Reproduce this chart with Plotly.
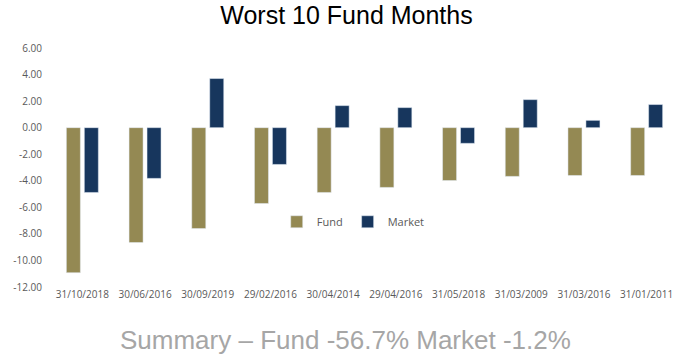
import plotly.graph_objects as go

months = ["31/10/2018", "30/06/2016", "30/09/2019", "29/02/2016", "30/04/2014",
          "29/04/2016", "31/05/2018", "31/03/2009", "31/03/2016", "31/01/2011"]
fund = [-10.92, -8.65, -7.60, -5.71, -4.88, -4.50, -3.98, -3.67, -3.60, -3.60]
market = [-4.88, -3.82, 3.70, -2.77, 1.66, 1.51, -1.18, 2.11, 0.55, 1.74]
y_ticks = [6, 4, 2, 0, -2, -4, -6, -8, -10, -12]

fig = go.Figure()
fig.add_trace(go.Bar(name="Fund", x=months, y=fund, marker_color="#948953"))
fig.add_trace(go.Bar(name="Market", x=months, y=market, marker_color="#17365d"))

tick_font = dict(family="Open Sans, Noto Sans, sans-serif", size=10, color="#595959")

fig.update_layout(
    width=693, height=358,
    margin=dict(l=51, r=15, t=48, b=71),
    paper_bgcolor="white", plot_bgcolor="white",
    barmode="group", bargap=0.427, bargroupgap=0.22,
    showlegend=True,
    legend=dict(orientation="h", x=0.36, y=0.273, xanchor="left", yanchor="middle",
                font=dict(family="Open Sans, Noto Sans, sans-serif", size=11, color="#595959"),
                itemwidth=30, bgcolor="rgba(0,0,0,0)"),
    title=dict(text="Worst 10 Fund Months", x=0.5, xanchor="center", y=1 - 15 / 358,
               yref="container", yanchor="middle",
               font=dict(family="Liberation Sans, Arial, sans-serif", size=25, color="#000000")),
    xaxis=dict(type="category", showgrid=False, showline=False, zeroline=False,
               ticks="", tickfont=tick_font, tickangle=0),
    yaxis=dict(range=[-12, 6], tickvals=y_ticks, ticktext=[f"{v:.2f}" for v in y_ticks],
               showgrid=False, showline=False, zeroline=False, ticks="",
               tickfont=tick_font, ticklabelstandoff=8),
    annotations=[dict(text="Summary – Fund -56.7% Market -1.2%", xref="paper", yref="paper",
                      x=(346 - 51) / 627.8, y=-(340 - 287) / 239, xanchor="center", yanchor="middle",
                      showarrow=False,
                      font=dict(family="Liberation Sans, Arial, sans-serif", size=26, color="#a6a6a6"))],
)

fig.write_html("out.html", config={"displayModeBar": False},
               post_script="document.body.style.margin='0';")
